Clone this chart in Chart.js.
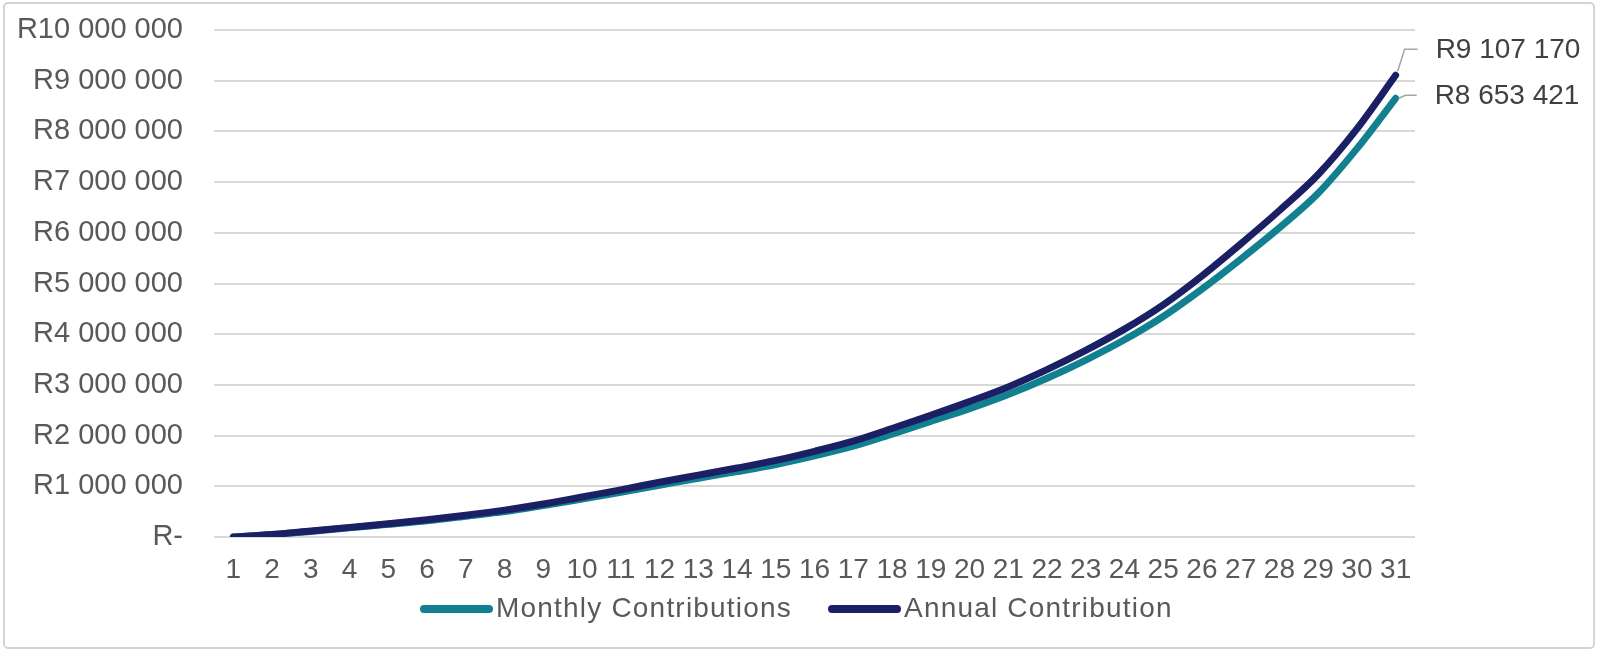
<!DOCTYPE html>
<html>
<head>
<meta charset="utf-8">
<script src="https://cdn.jsdelivr.net/npm/chart.js@4.4.0/dist/chart.umd.min.js"></script>
<style>
  html, body { margin: 0; padding: 0; background: #fff; }
  canvas { display: block; }
</style>
</head>
<body>
<canvas id="growthChart" width="1598" height="651"></canvas>
<script>
// Datos (Rand)
const years = ['1','2','3','4','5','6','7','8','9','10','11','12','13','14','15','16','17','18','19','20','21','22','23','24','25','26','27','28','29','30','31'];
const monthlyValues = [0, 50000, 110000, 180000, 250000, 320000, 410000, 500000, 620000, 750000,
  880000, 1020000, 1160000, 1290000, 1430000, 1600000, 1790000, 2030000, 2280000, 2530000,
  2810000, 3130000, 3490000, 3890000, 4350000, 4890000, 5480000, 6100000, 6780000, 7660000, 8653421];
const annualValues = [0, 50000, 120000, 190000, 260000, 340000, 430000, 530000, 650000, 790000,
  930000, 1080000, 1220000, 1360000, 1510000, 1690000, 1890000, 2140000, 2400000, 2670000,
  2960000, 3300000, 3680000, 4100000, 4580000, 5150000, 5780000, 6440000, 7150000, 8050000, 9107170];
const yTicks = [0, 1000000, 2000000, 3000000, 4000000, 5000000, 6000000, 7000000, 8000000, 9000000, 10000000];

const TEAL = '#118091';
const NAVY = '#1b2064';
const FONT = '"Liberation Sans", Arial, sans-serif';

function rand(v) {
  if (v === 0) return 'R-';
  return 'R' + Math.round(v).toString().replace(/\B(?=(\d{3})+(?!\d))/g, ' ');
}

// Marco exterior y leyenda
const framePlugin = {
  id: 'frame',
  beforeDraw(chart) {
    const ctx = chart.ctx;
    ctx.save();
    ctx.fillStyle = '#fff';
    ctx.fillRect(0, 0, chart.width, chart.height);
    ctx.strokeStyle = '#d4d4d4';
    ctx.lineWidth = 2;
    ctx.beginPath();
    ctx.roundRect(4, 3, chart.width - 8, chart.height - 6, 4);
    ctx.stroke();
    ctx.restore();
  },
  afterDraw(chart) {
    const ctx = chart.ctx;
    ctx.save();
    ctx.font = '28px ' + FONT;
    ctx.letterSpacing = '1.2px';
    ctx.textBaseline = 'middle';
    ctx.fillStyle = '#595959';
    const items = [
      { x: 420, color: TEAL, text: chart.data.datasets[0].label },
      { x: 828, color: NAVY, text: chart.data.datasets[1].label }
    ];
    items.forEach(it => {
      ctx.strokeStyle = it.color;
      ctx.lineWidth = 8;
      ctx.lineCap = 'round';
      ctx.beginPath();
      ctx.moveTo(it.x + 4, 609);
      ctx.lineTo(it.x + 69, 609);
      ctx.stroke();
      ctx.fillText(it.text, it.x + 76, 609);
    });
    ctx.restore();
  }
};

// Etiquetas del último punto
const endLabelPlugin = {
  id: 'endLabels',
  afterDatasetsDraw(chart) {
    const ctx = chart.ctx;
    const last = years.length - 1;
    const pa = chart.getDatasetMeta(1).data[last];
    const pm = chart.getDatasetMeta(0).data[last];
    ctx.save();
    ctx.strokeStyle = '#a6a6a6';
    ctx.lineWidth = 1.5;
    ctx.beginPath();
    ctx.moveTo(pa.x + 2, pa.y - 4);
    ctx.lineTo(pa.x + 9, pa.y - 26);
    ctx.lineTo(pa.x + 22, pa.y - 26);
    ctx.moveTo(pm.x + 3, pm.y);
    ctx.lineTo(pm.x + 10, pm.y - 3);
    ctx.lineTo(pm.x + 21, pm.y - 3);
    ctx.stroke();
    ctx.font = '28px ' + FONT;
    ctx.fillStyle = '#404040';
    ctx.textBaseline = 'middle';
    ctx.fillText(rand(annualValues[last]), pa.x + 40, pa.y - 25);
    ctx.fillText(rand(monthlyValues[last]), pm.x + 39, pm.y - 2);
    ctx.restore();
  }
};

const ctx = document.getElementById('growthChart').getContext('2d');
new Chart(ctx, {
  type: 'line',
  data: {
    labels: years,
    datasets: [{
      label: 'Monthly Contributions',
      data: monthlyValues,
      borderColor: TEAL,
      backgroundColor: TEAL,
      borderWidth: 7,
      pointRadius: 0,
      tension: 0.3,
      cubicInterpolationMode: 'monotone',
      borderCapStyle: 'round',
      borderJoinStyle: 'round',
      order: 1
    }, {
      label: 'Annual Contribution',
      data: annualValues,
      borderColor: NAVY,
      backgroundColor: NAVY,
      borderWidth: 7,
      pointRadius: 0,
      tension: 0.3,
      cubicInterpolationMode: 'monotone',
      borderCapStyle: 'round',
      borderJoinStyle: 'round',
      order: 0
    }]
  },
  options: {
    responsive: false,
    animation: false,
    layout: { padding: { left: 0, right: 183, top: 30, bottom: 54 } },
    plugins: {
      legend: { display: false },
      tooltip: { enabled: false }
    },
    scales: {
      x: {
        offset: true,
        grid: { display: false, drawTicks: false },
        border: { display: false },
        ticks: {
          autoSkip: false,
          maxRotation: 0,
          padding: 16,
          color: '#595959',
          font: { family: FONT, size: 28 }
        },
        afterFit(scale) { scale.height = 60; scale.paddingLeft = 0; scale.paddingRight = 0; }
      },
      y: {
        min: 0,
        max: 10000000,
        afterBuildTicks(scale) { scale.ticks = yTicks.map(v => ({ value: v })); },
        grid: { color: '#d9d9d9', lineWidth: 2, drawTicks: false },
        border: { display: false },
        ticks: {
          padding: 31,
          color: '#595959',
          font: { family: FONT, size: 29 },
          callback: v => rand(v)
        },
        afterFit(scale) { scale.width = 214; scale.paddingTop = 0; scale.paddingBottom = 0; }
      }
    }
  },
  plugins: [framePlugin, endLabelPlugin]
});
</script>
</body>
</html>
